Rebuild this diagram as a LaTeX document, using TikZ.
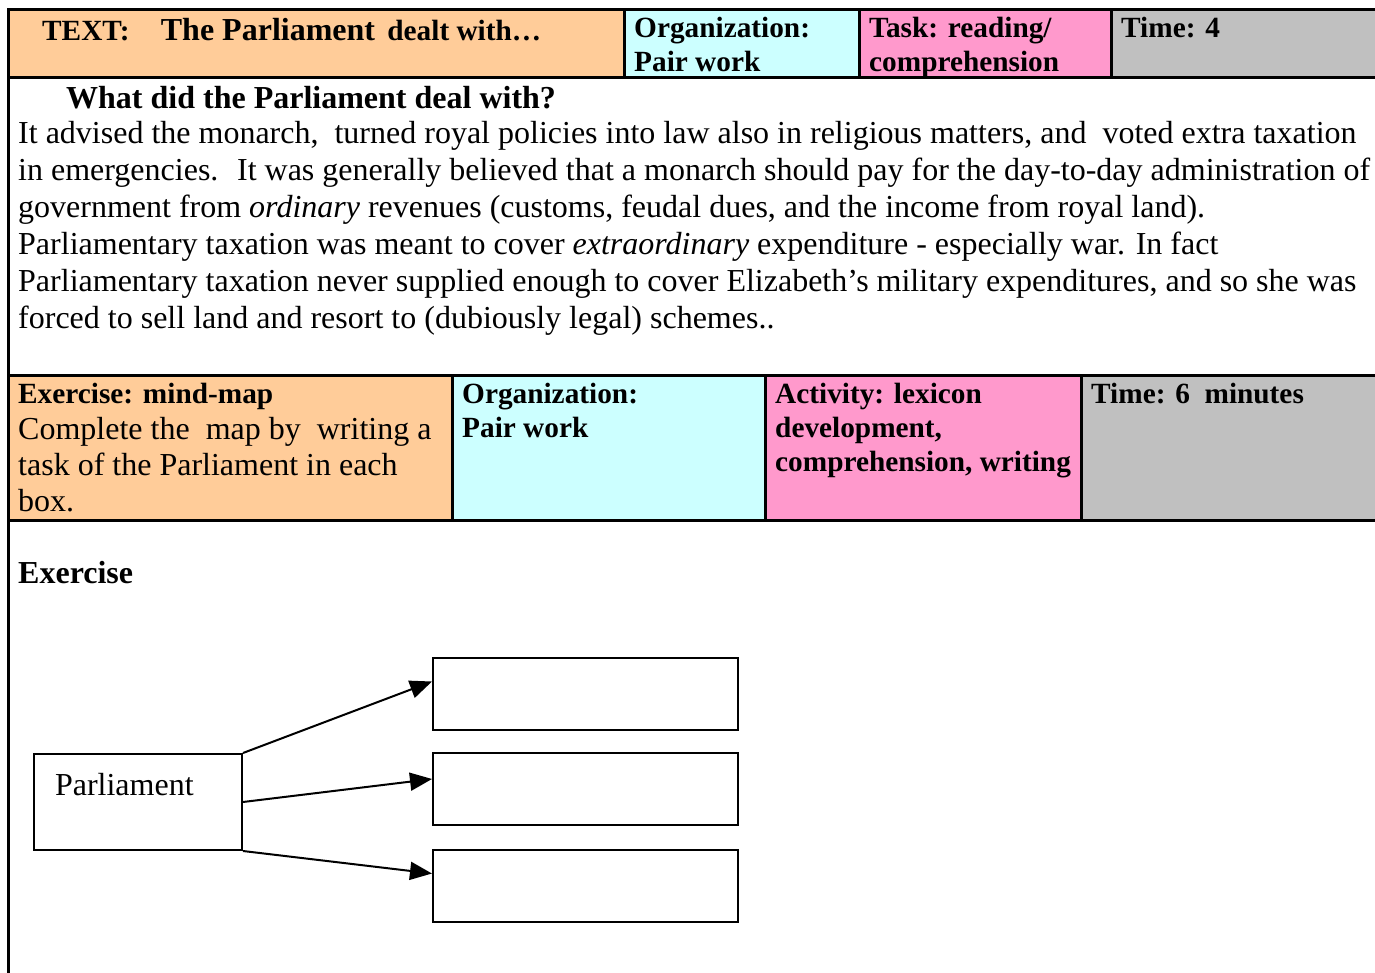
\documentclass[tikz,border=0pt]{standalone}
\usepackage{fontspec}
\setmainfont{Liberation Serif}
\usetikzlibrary{arrows.meta}

\definecolor{peach}{HTML}{FFCC99}
\definecolor{paleblue}{HTML}{CCFFFF}
\definecolor{pinkcell}{HTML}{FF99CC}
\definecolor{greycell}{HTML}{C0C0C0}

\newcommand{\sheetfont}{\fontsize{32}{37}\selectfont}
\newcommand{\cellfont}{\fontsize{29.3}{34}\selectfont\bfseries}

% multi-line nodes sit on the baseline of their last line
\tikzset{
    rule/.style={line width=3pt},
    head/.style={anchor=base west, inner sep=0pt, align=left, font=\cellfont},
    plain/.style={anchor=base west, inner sep=0pt, align=left, font=\sheetfont},
    taskbox/.style={draw, line width=2pt, minimum width=305pt, minimum height=72pt, inner sep=0pt},
    maparrow/.style={line width=2pt, -{Triangle[length=22pt, width=18pt]}}
}

\begin{document}
\begin{tikzpicture}[x=1pt, y=-1pt]
    \useasboundingbox (0,0) rectangle (1375,973);
    % first row of the sheet
    \fill[peach] (8,10) rectangle (624,78);
    \fill[paleblue] (624,10) rectangle (859,78);
    \fill[pinkcell] (859,10) rectangle (1111,78);
    \fill[greycell] (1111,10) rectangle (1375,78);
    % second row
    \fill[peach] (8,375) rectangle (452,520);
    \fill[paleblue] (452,375) rectangle (765,520);
    \fill[pinkcell] (765,375) rectangle (1081,520);
    \fill[greycell] (1081,375) rectangle (1375,520);
    % rules
    \draw[rule] (8,10) -- (1375,10);
    \draw[rule] (8,78) -- (1375,78);
    \draw[rule] (8,375) -- (1375,375);
    \draw[rule] (8,520) -- (1375,520);
    \draw[rule] (8,8.5) -- (8,973);
    \draw[rule] (624,10) -- (624,78);
    \draw[rule] (859,10) -- (859,78);
    \draw[rule] (1111,10) -- (1111,78);
    \draw[rule] (452,375) -- (452,520);
    \draw[rule] (765,375) -- (765,520);
    \draw[rule] (1081,375) -- (1081,520);

    \node[head] (texthead) at (42,41) {TEXT:\hspace*{24pt} {\sheetfont\bfseries The Parliament}\hspace*{5pt} dealt with…};
    \node[head] (orgone) at (634,72) {Organization:\\Pair work};
    \node[head] (taskone) at (869,72) {Task: reading/\\comprehension};
    \node[head] (timeone) at (1121,38) {Time: 4};

    \node[head, font=\sheetfont\bfseries] (question) at (66,109) {What did the Parliament deal with?};
    \node[plain] (passage) at (18,329) {It advised the monarch,~ turned royal policies into law also in religious matters, and~ voted extra taxation\\
        in emergencies.~ It was generally believed that a monarch should pay for the day-to-day administration of\\
        government from \textit{ordinary} revenues (customs, feudal dues, and the income from royal land).\\
        Parliamentary taxation was meant to cover \textit{extraordinary} expenditure - especially war. In fact\\
        Parliamentary taxation never supplied enough to cover Elizabeth's military expenditures, and so she was\\
        forced to sell land and resort to (dubiously legal) schemes..};

    \node[plain, font=\fontsize{32}{36}\selectfont] (exercisetask) at (18,511) {{\fontsize{29.3}{36}\selectfont\bfseries Exercise: mind-map}\\Complete the~ map by~ writing a\\task of the Parliament in each\\box.};
    \node[head] (orgtwo) at (462,437) {Organization:\\Pair work};
    \node[head] (activity) at (775,471) {Activity: lexicon\\development,\\comprehension, writing};
    \node[head] (timetwo) at (1091,403) {Time: 6~ minutes};

    \node[head, font=\sheetfont\bfseries] (exercise) at (18,583) {Exercise};

    % mind-map
    \node[draw, line width=2pt, anchor=north west, inner sep=0pt, inner xsep=21pt,
          text width=166pt, text height=41pt, text depth=55pt, align=left, font=\sheetfont] (parl) at (33,753) {Parliament};
    \node[taskbox] (task1) at (585.5,693.5) {};
    \node[taskbox] (task2) at (585.5,789) {};
    \node[taskbox] (task3) at (585.5,885.5) {};
    \draw[maparrow] (parl.north east) -- ([yshift=12pt]task1.west);
    \draw[maparrow] (parl.east) -- ([yshift=10pt]task2.west);
    \draw[maparrow] (parl.south east) -- ([yshift=12pt]task3.west);
\end{tikzpicture}
\end{document}
